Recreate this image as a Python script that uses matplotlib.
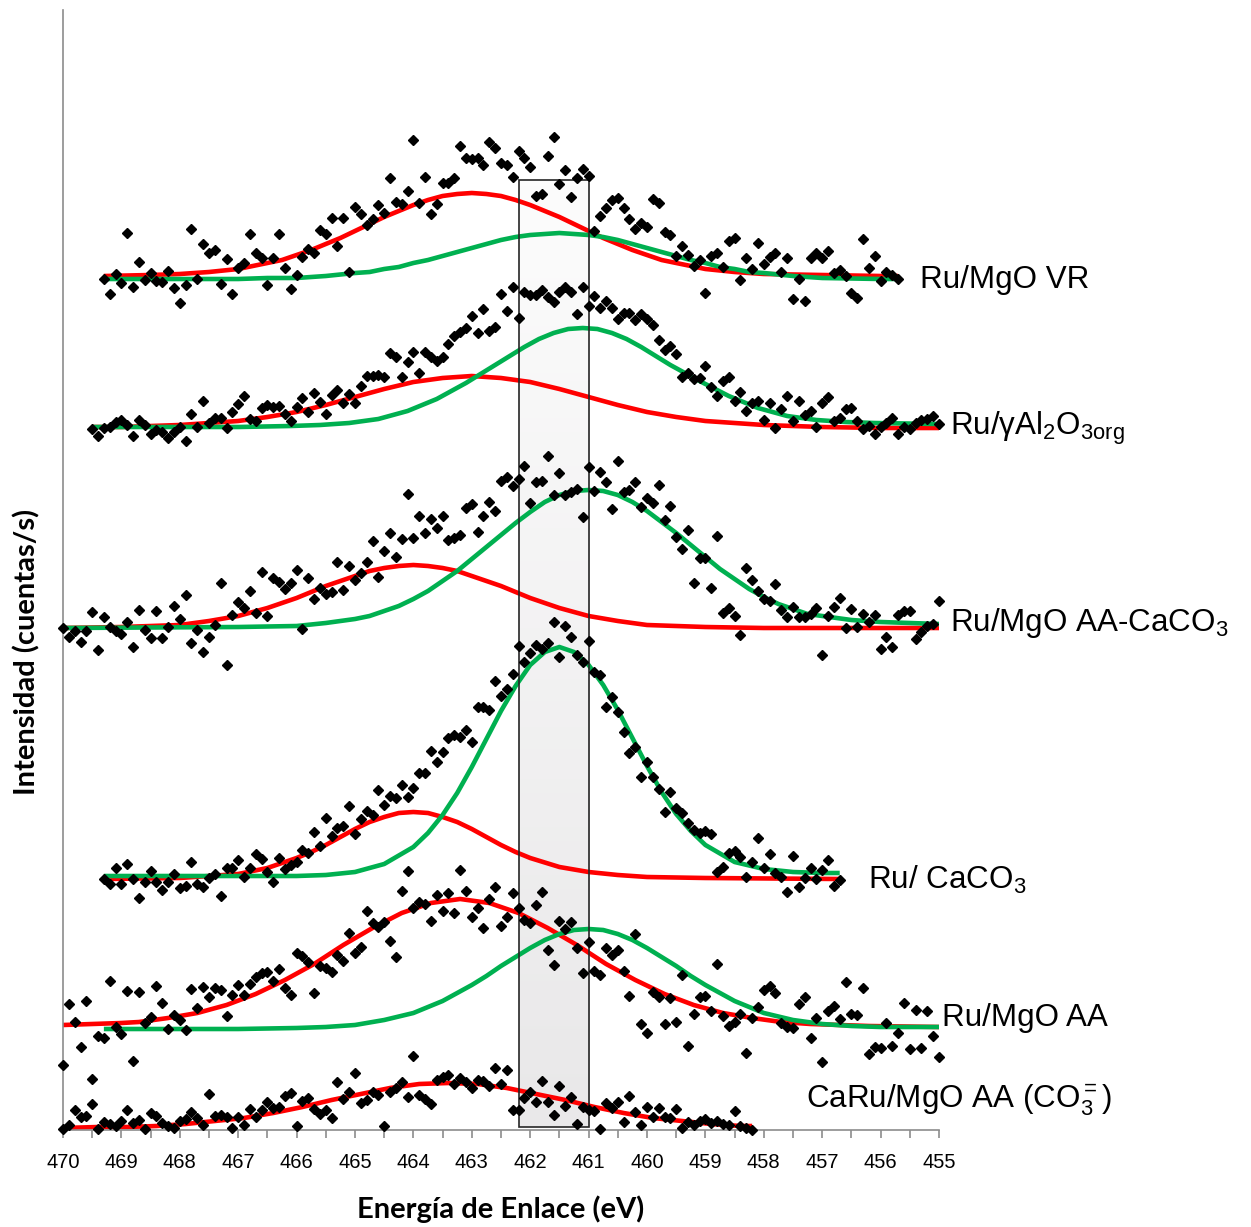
import numpy as np
import matplotlib.pyplot as plt
from matplotlib.patches import Rectangle
from matplotlib.colors import LinearSegmentedColormap

plt.rcParams['font.family'] = ['Liberation Sans', 'DejaVu Sans']
plt.rcParams['mathtext.fontset'] = 'custom'
plt.rcParams['mathtext.rm'] = 'Liberation Sans'
plt.rcParams['mathtext.it'] = 'Liberation Sans:italic'
plt.rcParams['mathtext.bf'] = 'Liberation Sans:bold'

STEP = 0.1  # eV between channels

# --- Ru/MgO VR ---
vr_start = 469.3
vr_counts = [851, 836, 856, 847, 897, 843, 868, 850, 857, 849,
             848, 859, 842, 827, 845, 901, 851, 886, 877, 880,
             846, 871, 836, 862, 867, 896, 877, 872, 845, 872,
             896, 862, 841, 855, 873, 881, 877, 900, 896, 912,
             884, 912, 858, 923, 916, 905, 911, 925, 917, 952,
             928, 926, 939, 990, 927, 953, 916, 926, 947, 947,
             952, 984, 972, 971, 972, 965, 988, 982, 967, 965,
             953, 979, 972, 963, 934, 936, 974, 993, 946, 960,
             933, 952, 961, 954, 899, 914, 922, 930, 932, 922,
             911, 901, 907, 903, 931, 927, 898, 895, 874, 884,
             875, 864, 870, 837, 874, 877, 863, 889, 892, 850,
             872, 861, 887, 866, 873, 877, 858, 872, 831, 851,
             829, 872, 877, 872, 879, 857, 860, 854, 837, 832,
             891, 862, 874, 849, 858, 855, 851]
vr_red_e = [469.3, 468.5, 468, 467.5, 467, 466.5, 466.25, 466, 465.75, 465.5, 465.25, 465,
            464.75, 464.5, 464.25, 464, 463.75, 463.5, 463.25, 463, 462.75, 462.5, 462.25,
            462, 461.75, 461.5, 461.25, 461, 460.75, 460.5, 460.25, 460, 459.75, 459.5,
            459, 458.5, 458, 457, 456, 455.7]
vr_red = [854, 855, 856, 858, 861, 867, 870, 875, 880, 886, 892, 899,
          906, 913, 919, 925, 930, 934, 936, 937, 936, 934, 930,
          925, 919, 913, 906, 899, 892, 886, 880, 875, 870, 867,
          861, 858, 856, 855, 854, 854]
vr_green_e = [469.3, 467, 466.5, 466, 465.5, 465, 464.75, 464.5, 464.25, 464, 463.75, 463.5,
              463.25, 463, 462.75, 462.5, 462.25, 462, 461.75, 461.5, 461.25, 461, 460.75,
              460.5, 460.25, 460, 459.75, 459.5, 459.25, 459, 458.75, 458.5, 458.25, 458,
              457.5, 457, 456, 455.7]
vr_green = [851, 851, 852, 852, 854, 857, 858, 861, 863, 867, 870, 874,
            878, 882, 886, 890, 893, 895, 896, 897, 896, 895, 893,
            890, 886, 882, 878, 874, 870, 867, 863, 861, 858, 857,
            854, 852, 851, 851]

# --- Ru/gamma-Al2O3 org ---
al_start = 469.5
al_counts = [701, 694, 702, 703, 708, 710, 705, 694, 710, 705,
             696, 700, 698, 692, 698, 703, 689, 716, 703, 729,
             707, 712, 712, 702, 718, 726, 734, 711, 709, 722,
             725, 723, 724, 716, 709, 723, 732, 718, 737, 728,
             716, 735, 740, 727, 736, 727, 744, 754, 754, 755,
             753, 777, 773, 753, 768, 778, 757, 778, 773, 769,
             773, 786, 794, 798, 802, 814, 797, 821, 799, 803,
             836, 819, 843, 812, 838, 835, 835, 840, 833, 828,
             838, 843, 838, 816, 843, 824, 834, 822, 829, 822,
             811, 817, 817, 810, 816, 811, 805, 790, 780, 784,
             776, 753, 757, 751, 752, 764, 743, 734, 749, 753,
             729, 738, 719, 727, 729, 710, 727, 702, 721, 734,
             709, 729, 715, 719, 703, 727, 733, 709, 712, 721,
             722, 709, 701, 704, 696, 703, 707, 712, 696, 703,
             701, 707, 710, 711, 714, 706]
al_red_e = [469.5, 469, 468.5, 468, 467.5, 467, 466.5, 466, 465.5, 465, 464.5, 464, 463.5, 463,
            462.5, 462, 461.5, 461, 460.5, 460, 459.5, 459, 458.5, 458, 457, 456, 455]
al_red = [703, 703, 704, 705, 707, 709, 713, 718, 725, 733, 741, 748, 752, 754,
          752, 748, 741, 733, 725, 718, 713, 709, 707, 705, 703, 702, 702]
al_green_e = [469.5, 467, 466.1, 465.6, 465.1, 464.6, 464.1, 463.6, 463.1,
              462.85, 462.6, 462.35, 462.1, 461.85, 461.6, 461.35, 461.1,
              460.85, 460.6, 460.35, 460.1, 459.85, 459.6, 459.35, 459.1,
              458.6, 458.1, 457.6, 457.1, 456.6, 456.1, 455]
al_green = [703, 703, 704, 705, 707, 711, 719, 731, 747,
            756, 765, 774, 783, 791, 797, 801, 802,
            801, 797, 791, 783, 774, 765, 757, 749,
            734, 722, 714, 710, 708, 707, 706]

# --- Ru/MgO AA-CaCO3 ---
ac_start = 470.0
ac_counts = [502, 493, 499, 488, 499, 518, 480, 513, 503, 499,
             496, 508, 483, 520, 500, 492, 519, 492, 503, 524,
             511, 535, 487, 500, 478, 493, 505, 547, 465, 515,
             528, 522, 539, 517, 558, 514, 552, 548, 541, 547,
             560, 501, 552, 531, 542, 536, 538, 568, 540, 564,
             550, 557, 568, 589, 553, 579, 597, 573, 591, 636,
             592, 614, 597, 611, 602, 614, 590, 592, 595, 622,
             626, 598, 614, 628, 619, 649, 653, 644, 651, 664,
             627, 648, 649, 674, 635, 657, 635, 638, 641, 613,
             663, 639, 658, 648, 621, 669, 638, 640, 648, 623,
             632, 627, 645, 610, 624, 593, 581, 600, 547, 572,
             572, 542, 594, 517, 522, 514, 495, 562, 550, 539,
             531, 529, 546, 520, 513, 523, 513, 513, 516, 522,
             475, 514, 523, 532, 502, 521, 503, 516, 508, 515,
             481, 493, 483, 515, 519, 519, 491, 498, 504, 506,
             529]
ac_red_e = [470, 469, 468.5, 468, 467.5, 467, 466.75, 466.5, 466.25, 466, 465.75, 465.5,
            465.25, 465, 464.75, 464.5, 464.25, 464, 463.75, 463.5, 463.25, 463, 462.75,
            462.5, 462.25, 462, 461.75, 461.5, 461.25, 461, 460.5, 460, 459.5, 459, 458, 455]
ac_red = [502, 503, 504, 505, 509, 514, 518, 522, 527, 532, 538, 544,
          549, 554, 559, 562, 564, 565, 564, 562, 559, 554, 549,
          544, 538, 532, 527, 522, 518, 514, 509, 505, 504, 503, 502, 502]
ac_green_e = [470, 467, 466, 465.5, 465, 464.75, 464.5, 464.25, 464, 463.75, 463.5, 463.25,
              463, 462.75, 462.5, 462.25, 462, 461.75, 461.5, 461.25, 461, 460.75, 460.5,
              460.25, 460, 459.75, 459.5, 459.25, 459, 458.75, 458.5, 458.25, 458, 457.75,
              457.5, 457.25, 457, 456.5, 456, 455]
ac_green = [502, 503, 504, 507, 511, 514, 519, 524, 531, 539, 549, 559,
            571, 583, 595, 607, 618, 628, 635, 639, 640, 639, 635,
            628, 619, 608, 597, 585, 573, 561, 551, 541, 533, 526,
            521, 516, 514, 510, 508, 506]

# --- Ru/ CaCO3 ---
ca_start = 469.3
ca_counts = [251, 246, 262, 246, 266, 251, 232, 248, 259, 248,
             240, 248, 256, 242, 244, 268, 246, 243, 252, 256,
             234, 262, 262, 270, 253, 262, 276, 271, 258, 248,
             272, 261, 265, 268, 280, 277, 298, 284, 312, 294,
             302, 304, 324, 296, 311, 319, 315, 340, 325, 334,
             332, 345, 333, 342, 357, 357, 379, 368, 378, 392,
             395, 393, 400, 388, 423, 423, 420, 449, 434, 441,
             456, 484, 468, 477, 485, 481, 487, 508, 473, 504,
             493, 475, 468, 489, 458, 455, 423, 433, 418, 398,
             377, 383, 353, 368, 353, 341, 318, 338, 322, 317,
             307, 300, 297, 299, 296, 258, 263, 277, 279, 273,
             253, 268, 292, 262, 276, 257, 253, 238, 274, 243,
             252, 262, 251, 260, 270, 244, 250]
ca_red_e = [469.3, 468, 467.5, 467, 466.5, 466, 465.75, 465.5, 465.25, 465, 464.75, 464.5,
            464.25, 464, 463.75, 463.5, 463.25, 463, 462.75, 462.5, 462.25, 462, 461.5,
            461, 460.5, 460, 459, 456.7]
ca_red = [251, 252, 254, 256, 262, 272, 278, 285, 293, 301, 308, 313,
          317, 318, 317, 313, 308, 301, 293, 285, 278, 272, 263,
          258, 255, 253, 252, 251]
ca_green_e = [469.3, 466, 465.5, 465, 464.5, 464, 463.75, 463.5, 463.25, 463, 462.75,
              462.5, 462.25, 462, 461.75, 461.5, 461.25, 461, 460.75, 460.5, 460.25,
              460, 459.75, 459.5, 459.25, 459, 458.5, 458, 457.5, 457, 456.7]
ca_green = [254, 254, 255, 258, 266, 283, 297, 315, 337, 363, 391,
            419, 444, 465, 478, 483, 478, 465, 445, 420, 392,
            364, 338, 316, 299, 285, 268, 261, 258, 257, 257]

# --- Ru/MgO AA ---
aa_start = 470.0
aa_counts = [65, 126, 108, 83, 129, 51, 94, 92, 149, 103,
             96, 139, 69, 138, 107, 113, 144, 127, 101, 115,
             110, 100, 141, 122, 143, 133, 142, 140, 114, 135,
             145, 135, 146, 153, 157, 158, 149, 161, 142, 135,
             177, 174, 168, 137, 164, 162, 158, 175, 169, 197,
             177, 183, 219, 207, 203, 208, 189, 173, 239, 259,
             222, 228, 226, 209, 235, 219, 237, 217, 260, 239,
             213, 222, 202, 231, 243, 204, 213, 237, 222, 210,
             207, 225, 238, 180, 165, 209, 201, 208, 182, 157,
             188, 159, 155, 182, 175, 180, 159, 134, 196, 106,
             97, 138, 133, 106, 132, 108, 155, 84, 116, 133,
             134, 119, 166, 114, 104, 108, 116, 77, 112, 123,
             140, 144, 137, 107, 103, 102, 126, 133, 92, 112,
             68, 119, 124, 111, 148, 116, 115, 142, 76, 83,
             82, 107, 84, 97, 127, 81, 120, 82, 119, 94,
             73]
aa_red_e = [470, 469.5, 469, 468.7, 468.2, 467.7, 467.2, 466.7, 466.2, 465.7, 465.2, 464.7,
            464.2, 463.7, 463.2, 462.7, 462.2, 461.7, 461.2, 460.7, 460.2, 459.7, 459.2,
            458.7, 458.2, 457.7, 457.2, 456.2, 455]
aa_red = [105, 106, 107, 108, 112, 117, 125, 136, 150, 166, 185, 202,
          217, 227, 231, 227, 217, 202, 185, 166, 150, 136, 125,
          117, 112, 108, 106, 104, 103]
aa_green_e = [469.3, 467, 466, 465.5, 465, 464.5, 464, 463.5, 463, 462.75, 462.5, 462.25,
              462, 461.75, 461.5, 461.25, 461, 460.75, 460.5, 460.25, 460, 459.75,
              459.5, 459.25, 459, 458.5, 458, 457.5, 457, 456.5, 456, 455]
aa_green = [101, 101, 102, 103, 105, 110, 117, 129, 145, 154, 164, 173,
            182, 190, 196, 200, 201, 200, 196, 190, 182, 173,
            164, 154, 145, 129, 117, 110, 106, 104, 103, 103]

# --- CaRu/MgO AA (CO3=) ---
cr_start = 470.0
cr_counts = [1, 5, 20, 13, 14, 26, 1, 8, 6, 4,
             9, 20, 7, 10, 1, 17, 14, 7, 4, 2,
             9, 11, 18, 12, 5, 36, 14, 15, 13, 2,
             13, 5, 21, 13, 20, 28, 22, 23, 34, 37,
             4, 29, 32, 21, 16, 20, 12, 48, 31, 38,
             57, 27, 30, 38, 35, 4, 38, 42, 48, 33,
             74, 35, 31, 26, 50, 53, 55, 46, 52, 48,
             42, 50, 49, 44, 62, 46, 60, 20, 20, 32,
             38, 28, 49, 28, 15, 44, 24, 33, 6, 23,
             20, 19, 1, 27, 22, 28, 8, 34, 18, 5,
             23, 13, 22, 13, 12, 21, 2, 8, 5, 9,
             11, 7, 9, 6, 5, 19, 4, 2, 0]
cr_red_e = [470, 469.4, 468.9, 468.4, 467.9, 467.4, 466.9, 466.4, 465.9, 465.4, 464.9, 464.4,
            463.9, 463.4, 462.9, 462.4, 461.9, 461.4, 460.9, 460.4, 459.9, 459.4, 458.9,
            458.4, 458.2]
cr_red = [2, 3, 3, 4, 6, 9, 12, 17, 23, 30, 36, 42,
          46, 47, 46, 42, 36, 30, 23, 17, 12, 9, 6,
          4, 4]

# Ru(0) window marked on the plot
band_e = (462.2, 461.0)
band_top = 950

labels = ['Ru/γAl$_2$O$_{\\mathrm{3org}}$', 'Ru/MgO AA-CaCO$_3$',
          'Ru/ CaCO$_3$', 'Ru/MgO AA', 'CaRu/MgO AA (CO$_3^{=}$)']
labels.insert(0, 'Ru/MgO VR')

spectra = [
    (vr_start, vr_counts, vr_red_e, vr_red, vr_green_e, vr_green),
    (al_start, al_counts, al_red_e, al_red, al_green_e, al_green),
    (ac_start, ac_counts, ac_red_e, ac_red, ac_green_e, ac_green),
    (ca_start, ca_counts, ca_red_e, ca_red, ca_green_e, ca_green),
    (aa_start, aa_counts, aa_red_e, aa_red, aa_green_e, aa_green),
    (cr_start, cr_counts, cr_red_e, cr_red, None, None),
]

RED = '#FF0000'
GREEN = '#00B050'
AXIS_GREY = '#8C8C8C'

fig = plt.figure(figsize=(12.51, 12.27), dpi=100)
ax = fig.add_axes([63 / 1251, 97 / 1227, 876 / 1251, 1120 / 1227])

# shaded band with a soft vertical gradient
grad = np.linspace(0, 1, 256).reshape(-1, 1)
cmap = LinearSegmentedColormap.from_list('band', ['#FCFCFC', '#E9E8E9'])
ax.imshow(grad, extent=[band_e[0], band_e[1], 3, band_top], cmap=cmap,
          aspect='auto', origin='upper', zorder=1, interpolation='bilinear')
ax.add_patch(Rectangle((band_e[1], 3), band_e[0] - band_e[1], band_top - 3,
                       fill=False, edgecolor='#262626', linewidth=1.2, zorder=3))

for start, counts, red_e, red, green_e, green in spectra:
    energy = np.round(start - STEP * np.arange(len(counts)), 2)
    ax.plot(red_e, red, color=RED, lw=3.3, zorder=2, solid_capstyle='butt')
    if green is not None:
        ax.plot(green_e, green, color=GREEN, lw=3.3, zorder=2, solid_capstyle='butt')
    ax.plot(energy, counts, linestyle='none', marker='D', ms=4.6,
            color='black', zorder=4, clip_on=False)

# series names at the right end of each trace
label_pos = [(455.33, 850), (454.82, 702), (454.82, 507),
             (456.22, 250), (454.95, 112), (457.28, 30)]
for text, (x, y) in zip(labels, label_pos):
    ax.text(x, y, text, fontsize=22.6, ha='left', va='center', clip_on=False)

ax.set_xlim(470, 455)
ax.set_ylim(0, 1120)
ax.set_xticks(np.arange(470, 454, -1))
ax.set_xticks(np.arange(469.5, 455, -1), minor=True)
ax.set_yticks([])
ax.tick_params(axis='x', which='both', direction='out', length=5.5,
               color=AXIS_GREY, width=1.2)
ax.tick_params(axis='x', which='major', labelsize=14.5, pad=11)
for side in ('top', 'right'):
    ax.spines[side].set_visible(False)
for side in ('left', 'bottom'):
    ax.spines[side].set_color(AXIS_GREY)
    ax.spines[side].set_linewidth(1.2)

fig.text(501 / 1251, 1 - 1209 / 1227, 'Energía de Enlace (eV)', ha='center', va='center',
         fontsize=21, fontweight='bold', family=['Lato', 'DejaVu Sans'])
fig.text(27 / 1251, 1 - 652 / 1227, 'Intensidad (cuentas/s)', ha='center', va='center',
         rotation=90, fontsize=21, fontweight='bold', family=['Lato', 'DejaVu Sans'])

fig.savefig('out.png', dpi=100)
